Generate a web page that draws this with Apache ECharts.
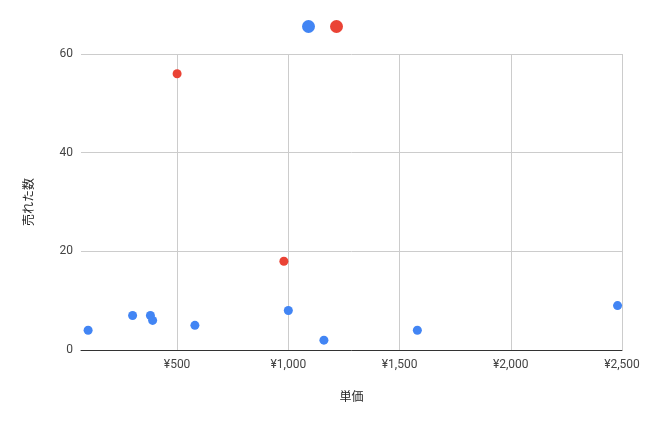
<!DOCTYPE html>
<html>
<head>
<meta charset="utf-8">
<script src="https://cdn.jsdelivr.net/npm/echarts@6/dist/echarts.min.js"></script>
<style>html,body{margin:0;padding:0;background:#fff;}#c{width:645px;height:424px;}</style>
</head>
<body>
<div id="c"></div>
<script>
// Blue series: [unit price, quantity sold]
const bluePrices = [100, 300, 380, 390, 580, 1000, 1160, 1580, 2480];
const blueCounts = [4, 7, 7, 6, 5, 8, 2, 4, 9];
// Red series
const redPrices = [500, 980];
const redCounts = [56, 18];
const xTicks = [500, 1000, 1500, 2000, 2500];
const yTicks = [0, 20, 40, 60];
const xAxisName = '単価';
const yAxisName = '売れた数';

const font = 'Roboto, Arial, "Noto Sans CJK JP", sans-serif';
const chart = echarts.init(document.getElementById('c'), null, {renderer: 'canvas'});
const zip = (a, b) => a.map((v, i) => [v, b[i]]);
chart.setOption({
  animation: false,
  textStyle: {fontFamily: font},
  legend: {
    top: 15, left: 'center',
    itemWidth: 13, itemHeight: 13, itemGap: 15,
    icon: 'circle',
    formatter: () => '',
    data: ['A', 'B']
  },
  grid: {left: 81, right: 23, top: 54, bottom: 74},
  xAxis: {
    type: 'value', min: 68, max: 2500,
    name: xAxisName, nameLocation: 'middle', nameGap: 42,
    nameTextStyle: {color: '#222', fontSize: 12, fontFamily: font},
    axisLine: {show: true, onZero: false, lineStyle: {color: '#333', width: 1}},
    axisTick: {show: false, customValues: xTicks},
    axisLabel: {customValues: xTicks, color: '#444', fontSize: 12, margin: 9,
      formatter: v => '¥' + v.toLocaleString('en-US')},
    splitLine: {show: true, lineStyle: {color: '#ccc'}}
  },
  yAxis: {
    type: 'value', min: 0, max: 60, interval: 20,
    name: yAxisName, nameLocation: 'middle', nameGap: 45,
    nameTextStyle: {color: '#222', fontSize: 12, fontFamily: font},
    axisLine: {show: false},
    axisTick: {show: false},
    axisLabel: {color: '#444', fontSize: 12, margin: 8, customValues: yTicks},
    splitLine: {show: true, lineStyle: {color: '#ccc'}}
  },
  series: [
    {name: 'A', type: 'scatter', symbolSize: 9, itemStyle: {color: '#4285F4', opacity: 1},
     data: zip(bluePrices, blueCounts)},
    {name: 'B', type: 'scatter', symbolSize: 9, itemStyle: {color: '#EA4335', opacity: 1},
     data: zip(redPrices, redCounts)}
  ]
});
</script>
</body>
</html>
